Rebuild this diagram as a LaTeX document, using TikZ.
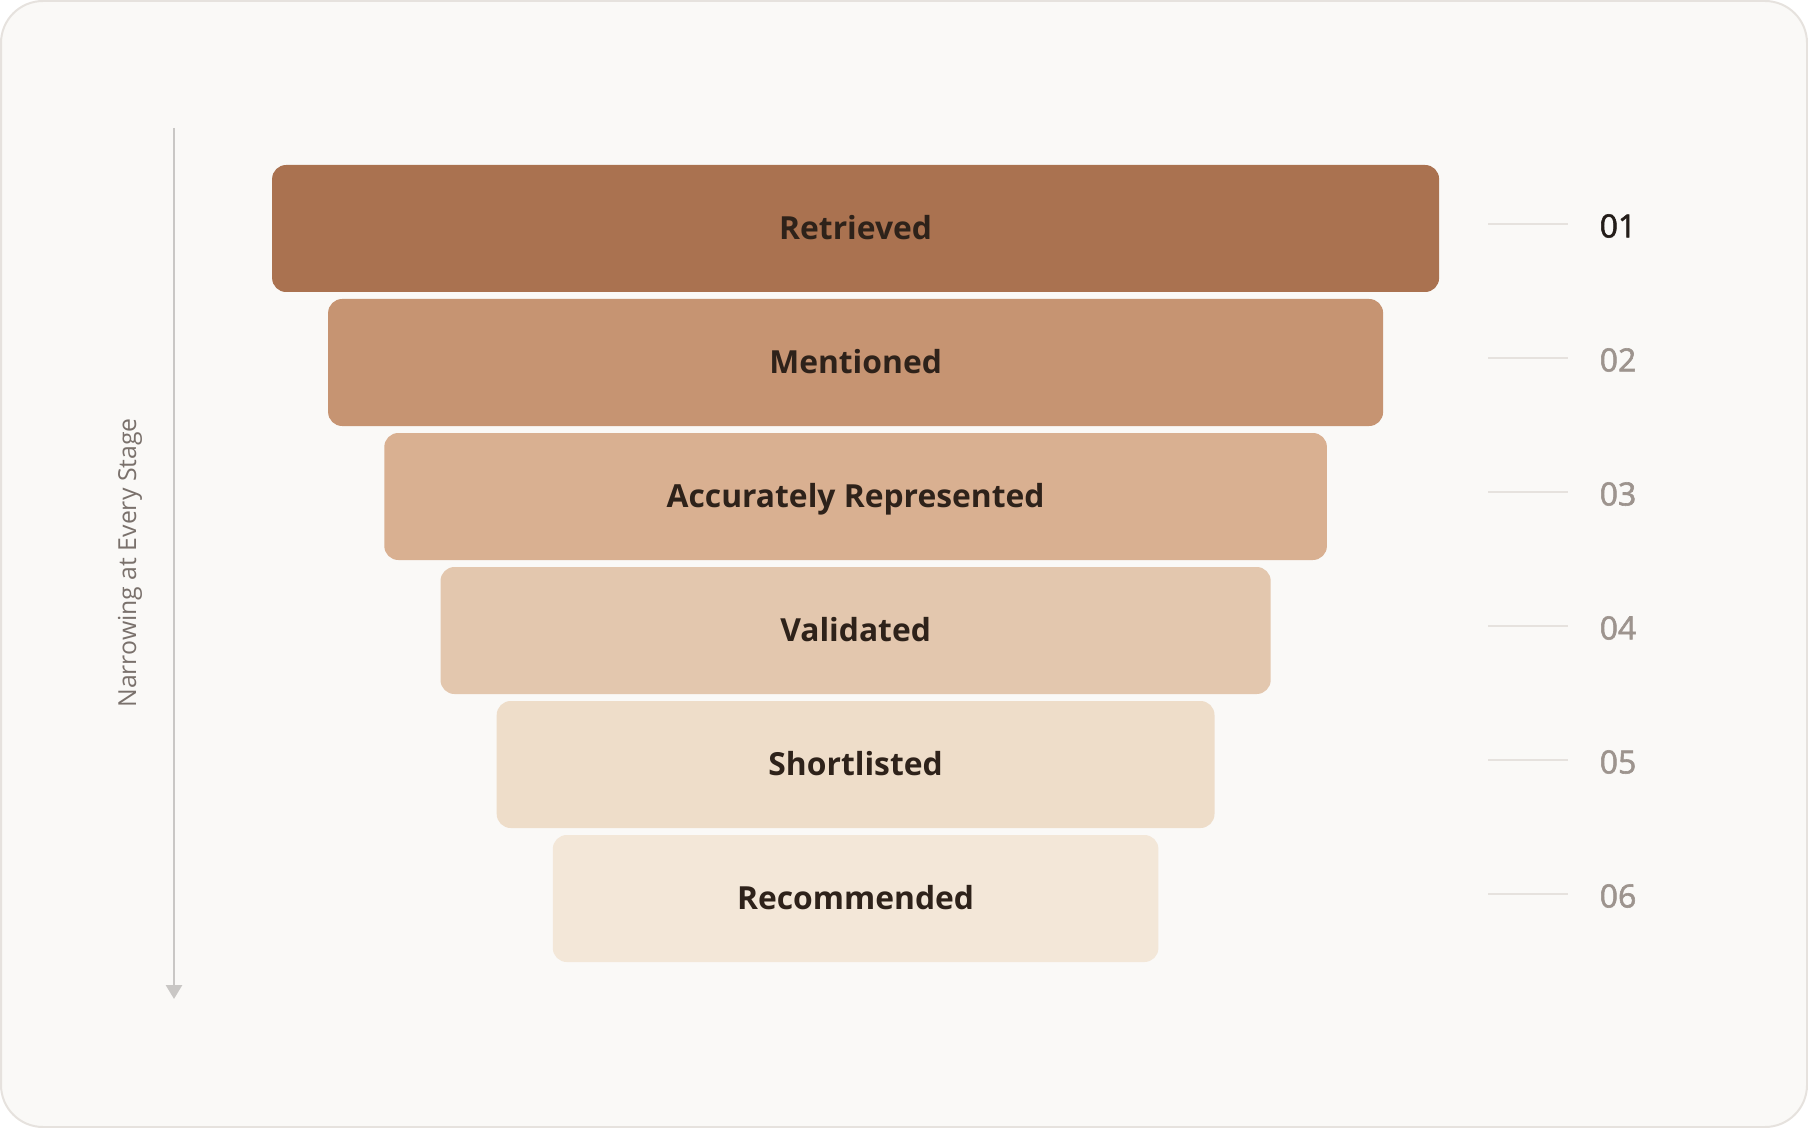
\documentclass[tikz,border=0pt]{standalone}
\usepackage{fontspec}
\setmainfont{Open Sans}
\newfontfamily\numfont[FakeBold=1.8]{Open Sans}
\usetikzlibrary{arrows.meta}

\definecolor{cardbg}{HTML}{FAF9F7}
\definecolor{cardline}{HTML}{E6E2DE}
\definecolor{stageA}{HTML}{AA7250}
\definecolor{stageB}{HTML}{C69472}
\definecolor{stageC}{HTML}{D9B091}
\definecolor{stageD}{HTML}{E3C7AE}
\definecolor{stageE}{HTML}{EEDDC9}
\definecolor{stageF}{HTML}{F3E7D8}
\definecolor{stagetext}{HTML}{2E221A}
\definecolor{numdark}{HTML}{231D19}
\definecolor{numgrey}{HTML}{9D948E}
\definecolor{axisgrey}{HTML}{C9C7C5}
\definecolor{labelgrey}{HTML}{7A716C}

\begin{document}
\begin{tikzpicture}[%
    x=0.5pt,
    y=-0.5pt,
    stagebox/.style={
      rectangle,
      rounded corners=7pt,
      minimum height=63.5pt,
      inner sep=0pt,
      text=stagetext,
      font=\bfseries\fontsize{15.9}{18}\selectfont,
      text height=11.3pt,
      text depth=0pt
    },
    stagenum/.style={
      text=numgrey,
      font=\numfont\fontsize{16}{19}\selectfont,
      inner sep=0pt
    },
    tick/.style={
      draw=cardline,
      line width=1pt
    },
    axis/.style={
      draw=axisgrey,
      line width=1.4pt,
      -{Triangle[width=8pt,length=7pt]}
    }
  ]
    % card
    \useasboundingbox (0,0) rectangle (1808,1128);
    \draw[fill=cardbg, draw=cardline, line width=1pt, rounded corners=21pt] (1,1) rectangle (1807,1127);

    % axis on the left
    \coordinate (axistop) at (174,128);
    \coordinate (axisend) at (174,999);
    \draw[axis] (axistop) -- (axisend);
    \node[rotate=90, text=labelgrey, font=\fontsize{12.4}{14}\selectfont] (axislabel) at (130,563) {Narrowing at Every Stage};

    % funnel
    \node[stagebox, fill=stageA, minimum width=583.5pt] (retrieved) at (855.6,228.5) {Retrieved};
    \node[stagebox, fill=stageB, minimum width=527.5pt] (mentioned) at (855.6,362.5) {Mentioned};
    \node[stagebox, fill=stageC, minimum width=471.3pt] (accurate) at (855.6,496.5) {Accurately Represented};
    \node[stagebox, fill=stageD, minimum width=415.1pt] (validated) at (855.6,630.5) {Validated};
    \node[stagebox, fill=stageE, minimum width=358.9pt] (shortlisted) at (855.6,764.5) {Shortlisted};
    \node[stagebox, fill=stageF, minimum width=302.8pt] (recommended) at (855.6,898.5) {Recommended};

    % stage numbers
    \node[stagenum, text=numdark] (numA) at (1618,226) {01};
    \node[stagenum] (numB) at (1618,360) {02};
    \node[stagenum] (numC) at (1618,494) {03};
    \node[stagenum] (numD) at (1618,628) {04};
    \node[stagenum] (numE) at (1618,762) {05};
    \node[stagenum] (numF) at (1618,896) {06};

    \draw[tick] (1488,224) -- (1568,224);
    \draw[tick] (1488,358) -- (1568,358);
    \draw[tick] (1488,492) -- (1568,492);
    \draw[tick] (1488,626) -- (1568,626);
    \draw[tick] (1488,760) -- (1568,760);
    \draw[tick] (1488,894) -- (1568,894);
\end{tikzpicture}
\end{document}
